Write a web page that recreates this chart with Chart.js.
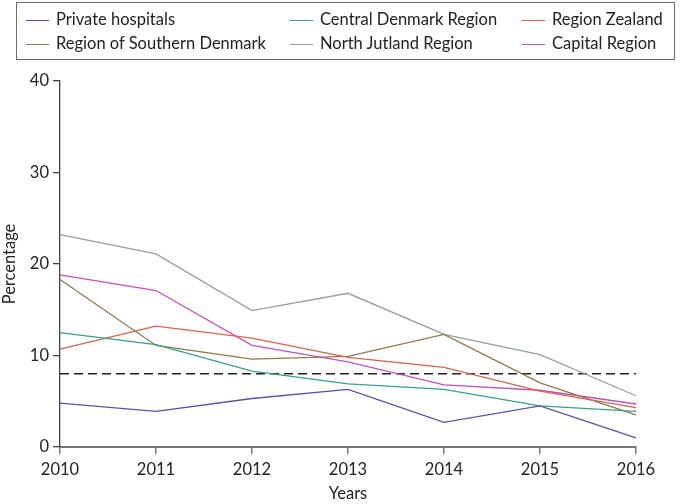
<!DOCTYPE html>
<html>
<head>
<meta charset="utf-8">
<script src="https://cdn.jsdelivr.net/npm/chart.js@4"></script>
<style>
  html, body { margin: 0; padding: 0; background: #fff; }
  #wrap { position: relative; width: 681px; height: 504px; }
  #legend { position: absolute; left: 16px; top: 2px; width: 659px; height: 58px; border: 1px solid #6a6a6a; box-sizing: border-box; font-family: Lato, "Open Sans", sans-serif; font-size: 16.5px; color: #222; }
  .item { position: absolute; height: 20px; line-height: 20px; white-space: nowrap; }
  .item .sw { display: inline-block; width: 23px; height: 0; border-top: 1.5px solid; vertical-align: middle; margin-right: 7px; }
</style>
</head>
<body>
<div id="wrap">
  <canvas id="c" width="681" height="504"></canvas>
  <div id="legend"></div>
</div>
<script>
const years = ['2010','2011','2012','2013','2014','2015','2016'];
const seriesNames = ['Private hospitals','Central Denmark Region','Region Zealand','Region of Southern Denmark','North Jutland Region','Capital Region'];
const privateHospitals = [4.8, 3.9, 5.3, 6.3, 2.7, 4.5, 1.0];
const centralDenmark   = [12.5, 11.2, 8.3, 6.9, 6.3, 4.5, 3.9];
const regionZealand    = [10.7, 13.2, 11.9, 9.8, 8.7, 6.1, 4.3];
const southernDenmark  = [18.3, 11.1, 9.6, 9.9, 12.3, 7.0, 3.5];
const northJutland     = [23.2, 21.1, 14.9, 16.8, 12.3, 10.1, 5.6];
const capitalRegion    = [18.8, 17.1, 11.1, 9.3, 6.8, 6.2, 4.7];
const targetLevel = [8, 8, 8, 8, 8, 8, 8];
const yTicks = [0, 10, 20, 30, 40];

const colors = ['#5a52a6', '#3a9e8c', '#d4644f', '#8c7a50', '#93a397', '#c052b8'];
const values = [privateHospitals, centralDenmark, regionZealand, southernDenmark, northJutland, capitalRegion];

const datasets = values.map((v, i) => ({
  label: seriesNames[i], data: v, borderColor: colors[i], backgroundColor: colors[i],
  borderWidth: 1.3, pointRadius: 0, tension: 0, fill: false
}));
datasets.push({ label: 'Target', data: targetLevel, borderColor: '#222', borderWidth: 1.5, borderDash: [9, 5], pointRadius: 0, fill: false });

const FONT = 'Lato, "Open Sans", sans-serif';

new Chart(document.getElementById('c'), {
  type: 'line',
  data: { labels: years, datasets },
  options: {
    responsive: false, animation: false, devicePixelRatio: 1,
    layout: { padding: { left: 0, top: 81, right: 45, bottom: 0 } },
    plugins: { legend: { display: false }, tooltip: { enabled: false } },
    scales: {
      x: {
        offset: false,
        grid: { display: true, drawOnChartArea: false, tickLength: 7, color: '#777', lineWidth: 1.5 },
        border: { display: true, color: '#777', width: 2 },
        ticks: { color: '#222', font: { family: FONT, size: 16.5 }, padding: 6, maxRotation: 0 },
        title: { display: true, text: 'Years', color: '#222', font: { family: FONT, size: 16.5 }, padding: { top: 4, bottom: 0 } },
        afterFit: s => { s.height = 57; }
      },
      y: {
        min: 0, max: 40,
        afterBuildTicks: s => { s.ticks = yTicks.map(v => ({ value: v })); },
        grid: { display: true, drawOnChartArea: false, tickLength: 7, color: '#444', lineWidth: 1.3 },
        border: { display: true, color: '#444', width: 1.3 },
        ticks: { color: '#222', font: { family: FONT, size: 16.5 }, padding: 4 },
        title: { display: true, text: 'Percentage', color: '#222', font: { family: FONT, size: 16.5 }, padding: { top: 0, bottom: 2 } },
        afterFit: s => { s.width = 60; }
      }
    }
  }
});

const legendPos = [[9, 6], [273, 6], [505, 6], [9, 30], [273, 30], [505, 30]];
const order = [0, 1, 2, 3, 4, 5];
const leg = document.getElementById('legend');
order.forEach((idx, k) => {
  const d = document.createElement('div');
  d.className = 'item';
  d.style.left = legendPos[k][0] + 'px';
  d.style.top = legendPos[k][1] + 'px';
  const sw = document.createElement('span');
  sw.className = 'sw';
  sw.style.borderTopColor = colors[idx];
  d.appendChild(sw);
  d.appendChild(document.createTextNode(seriesNames[idx]));
  leg.appendChild(d);
});
</script>
</body>
</html>
